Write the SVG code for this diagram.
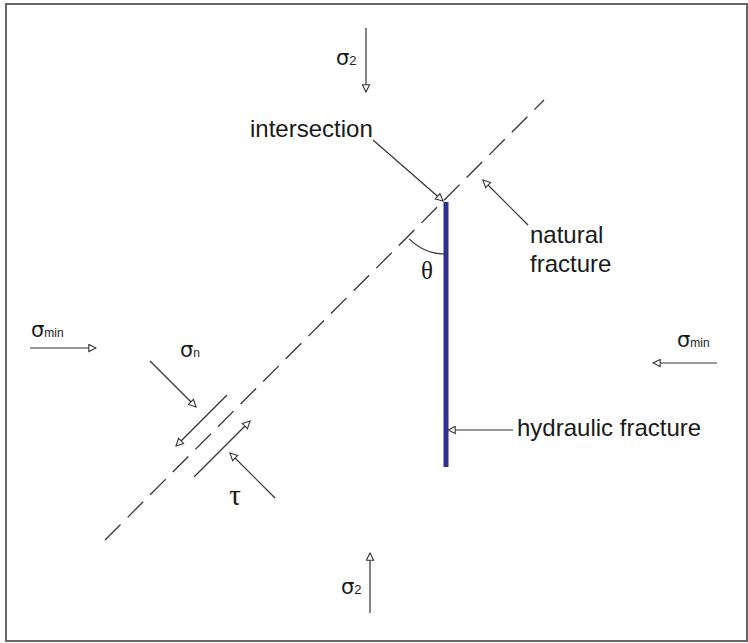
<svg xmlns="http://www.w3.org/2000/svg" width="748" height="643" viewBox="0 0 748 643">
<defs>
<style>
.lbl{font-family:"Liberation Sans",Arial,sans-serif;font-size:24px;fill:#1a1a1a}
.sig{font-family:"DejaVu Sans","Liberation Sans",sans-serif;font-size:21px;fill:#1a1a1a}
.sub{font-family:"Liberation Sans",Arial,sans-serif;font-size:13px}
.subm{font-family:"Liberation Sans",Arial,sans-serif;font-size:12px}
.greek{font-family:"Liberation Serif","Times New Roman",serif;font-size:25px;fill:#1a1a1a}
.arr{stroke:#333;stroke-width:1.2;fill:none;marker-end:url(#oh)}
</style>
<marker id="oh" viewBox="0 0 10 10" refX="9" refY="5" markerWidth="9" markerHeight="9" markerUnits="userSpaceOnUse" orient="auto">
<path d="M1,1 L9,5 L1,9 Z" fill="#fff" stroke="#333" stroke-width="1.2"/>
</marker>
</defs>
<rect x="0" y="0" width="748" height="643" fill="#fff"/>
<rect x="6" y="4" width="741" height="637" fill="none" stroke="#666" stroke-width="2"/>

<g id="natural-fracture">
<line x1="105" y1="540" x2="544" y2="100" stroke="#333" stroke-width="1.3" stroke-dasharray="22 10"/>
</g>
<g id="hydraulic-fracture">
<line x1="446" y1="202" x2="446" y2="467" stroke="#2e3192" stroke-width="5"/>
</g>
<g id="shear">
<line x1="227" y1="395" x2="176" y2="446" class="arr"/>
<line x1="194" y1="477" x2="250" y2="421" class="arr"/>
</g>
<g id="angle">
<path d="M409.2,238.8 A52,52 0 0 0 446,254" fill="none" stroke="#333" stroke-width="1.2"/>
<text x="427" y="279" class="greek" text-anchor="middle">θ</text>
</g>

<g id="connectors">
<line x1="366" y1="28" x2="366" y2="92" class="arr"/>
<line x1="370" y1="613" x2="370" y2="553" class="arr"/>
<line x1="30" y1="348" x2="96" y2="348" class="arr"/>
<line x1="717" y1="363" x2="653" y2="363" class="arr"/>
<line x1="373" y1="140" x2="443" y2="201" class="arr"/>
<line x1="528" y1="225" x2="483" y2="180" class="arr"/>
<line x1="513" y1="430" x2="448" y2="430" class="arr"/>
<line x1="150" y1="361" x2="196" y2="407" class="arr"/>
<line x1="275" y1="498" x2="230" y2="453" class="arr"/>
</g>

<g id="label-sigma2-top"><text x="336" y="65" class="sig">σ<tspan class="sub">2</tspan></text></g>
<g id="label-sigma2-bottom"><text x="341" y="594" class="sig">σ<tspan class="sub">2</tspan></text></g>
<g id="label-sigmamin-left"><text x="31" y="337" class="sig">σ<tspan class="subm">min</tspan></text></g>
<g id="label-sigmamin-right"><text x="677" y="347" class="sig">σ<tspan class="subm">min</tspan></text></g>
<g id="label-sigman"><text x="180" y="357" class="sig">σ<tspan class="subm">n</tspan></text></g>
<g id="label-tau"><text x="235" y="505" class="greek" style="font-size:29px" text-anchor="middle">τ</text></g>
<g id="label-intersection"><text x="250" y="137" class="lbl">intersection</text></g>
<g id="label-natural"><text x="530" y="243" class="lbl">natural</text><text x="530" y="272" class="lbl">fracture</text></g>
<g id="label-hydraulic"><text x="517" y="436" class="lbl">hydraulic fracture</text></g>
</svg>
